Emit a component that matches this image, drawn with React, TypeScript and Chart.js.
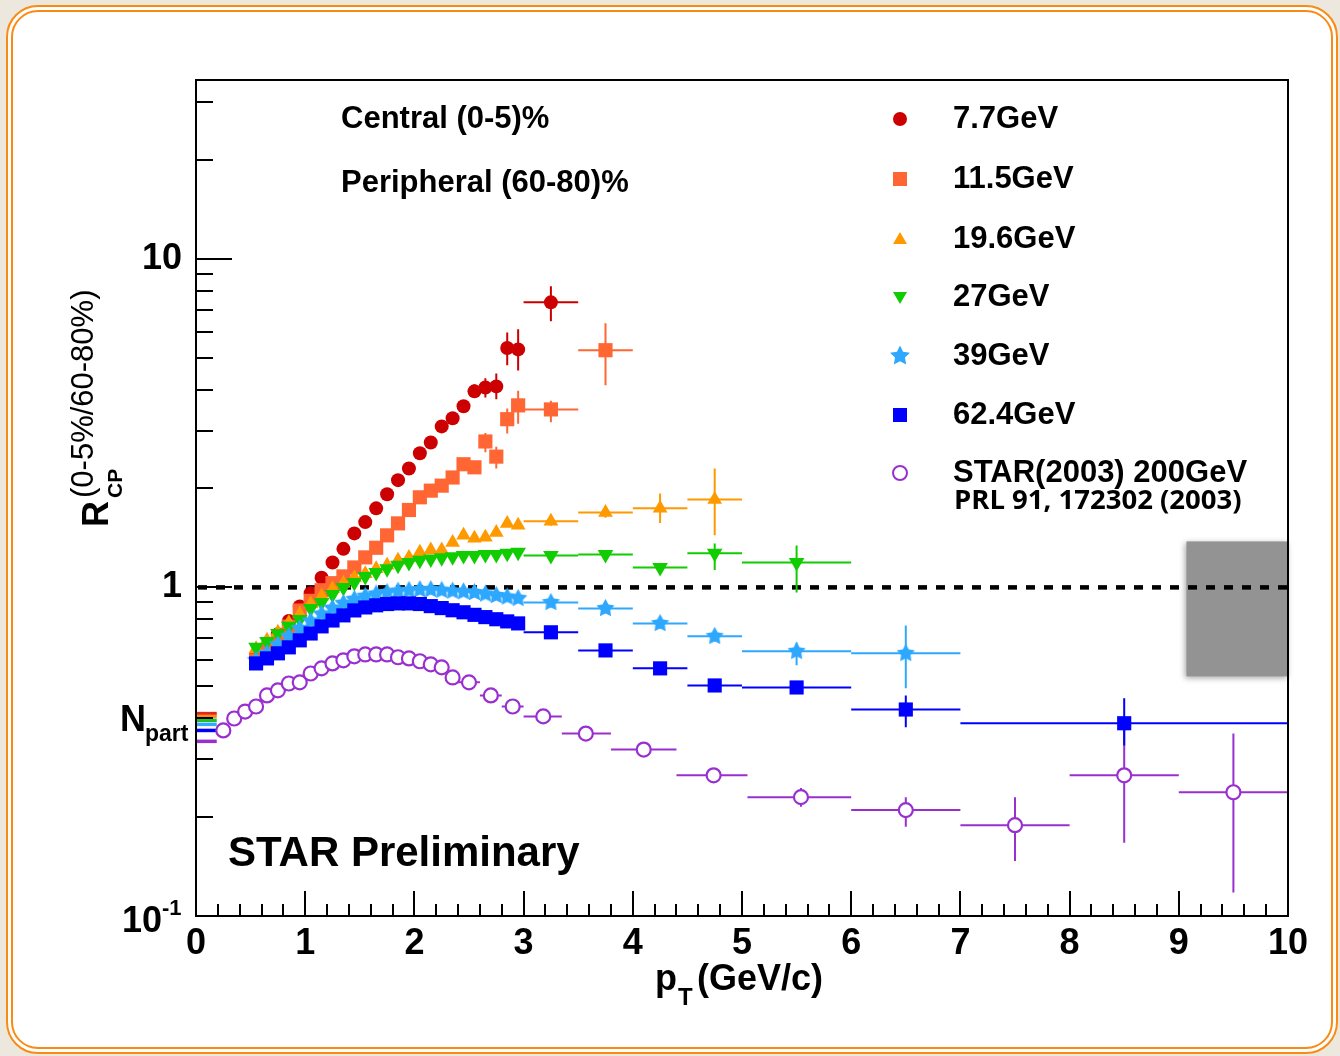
import React, { useEffect, useRef } from 'react';
import { Chart, registerables } from 'chart.js';

Chart.register(...registerables);

const FONT = "'Liberation Sans', Arial, Helvetica, sans-serif";

// ---- axes ----
const X_MIN = 0;
const X_MAX = 10;
const Y_MIN = 0.1;
const Y_MAX = 35;
const X_MAJOR_TICKS = [0, 1, 2, 3, 4, 5, 6, 7, 8, 9, 10];
const X_MINOR_STEP = 0.2;
const Y_MAJOR_TICKS = [0.1, 1, 10];
const Y_MINOR_TICKS = [0.2, 0.3, 0.4, 0.5, 0.6, 0.7, 0.8, 0.9, 2, 3, 4, 5, 6, 7, 8, 9, 20, 30];
const Y_LABELS = ['10', '1', '10'];

// ---- common pT bins (GeV/c) ----
const PT_FINE = [0.55, 0.65, 0.75, 0.85, 0.95, 1.05, 1.15, 1.25, 1.35, 1.45, 1.55, 1.65, 1.75, 1.85, 1.95, 2.05, 2.15, 2.25, 2.35, 2.45, 2.55, 2.65, 2.75, 2.85, 2.95];

// ---- 7.7 GeV ----
const PT_7 = [...PT_FINE, 3.25];
const R_7 = [0.62, 0.66, 0.72, 0.79, 0.875, 0.96, 1.07, 1.19, 1.31, 1.46, 1.58, 1.74, 1.92, 2.12, 2.30, 2.56, 2.76, 3.09, 3.27, 3.56, 3.95, 4.06, 4.09, 5.35, 5.30, 7.37];
const ERR_7_PT = [2.55, 2.65, 2.75, 2.85, 2.95, 3.25];
const ERR_7_XLO = [2.5, 2.6, 2.7, 2.8, 2.9, 3.0];
const ERR_7_XHI = [2.6, 2.7, 2.8, 2.9, 3.0, 3.5];
const ERR_7_YLO = [3.78, 3.78, 3.74, 4.74, 4.57, 6.45];
const ERR_7_YHI = [4.15, 4.33, 4.48, 5.97, 6.10, 8.25];

// ---- 11.5 GeV ----
const PT_11 = [...PT_FINE, 3.25, 3.75];
const R_11 = [0.60, 0.64, 0.69, 0.76, 0.85, 0.91, 0.98, 1.03, 1.08, 1.15, 1.234, 1.32, 1.44, 1.566, 1.72, 1.88, 1.97, 2.04, 2.16, 2.37, 2.32, 2.78, 2.5, 3.25, 3.58, 3.48, 5.27];
const ERR_11_PT = [2.65, 2.75, 2.85, 2.95, 3.25, 3.75];
const ERR_11_XLO = [2.6, 2.7, 2.8, 2.9, 3.0, 3.5];
const ERR_11_XHI = [2.7, 2.8, 2.9, 3.0, 3.5, 4.0];
const ERR_11_YLO = [2.58, 2.3, 2.94, 3.15, 3.18, 4.12];
const ERR_11_YHI = [2.95, 2.68, 3.5, 3.97, 3.7, 6.36];

// ---- 19.6 GeV ----
const PT_19 = [...PT_FINE, 3.25, 3.75, 4.25, 4.75];
const R_19 = [0.65, 0.69, 0.73, 0.78, 0.83, 0.89, 0.94, 0.99, 1.03, 1.07, 1.10, 1.14, 1.167, 1.21, 1.234, 1.28, 1.30, 1.30, 1.37, 1.44, 1.41, 1.42, 1.47, 1.565, 1.545, 1.59, 1.69, 1.74, 1.85];
const ERR_19_PT = [3.25, 3.75, 4.25, 4.75];
const ERR_19_XLO = [3.0, 3.5, 4.0, 4.5];
const ERR_19_XHI = [3.5, 4.0, 4.5, 5.0];
const ERR_19_YLO = [1.54, 1.63, 1.57, 1.44];
const ERR_19_YHI = [1.64, 1.75, 1.93, 2.3];

// ---- 27 GeV ----
const PT_27 = [...PT_FINE, 3.25, 3.75, 4.25, 4.75, 5.5];
const R_27 = [0.657, 0.685, 0.724, 0.761, 0.799, 0.863, 0.90, 0.952, 1.0, 1.035, 1.08, 1.11, 1.14, 1.167, 1.19, 1.21, 1.22, 1.23, 1.24, 1.25, 1.25, 1.26, 1.26, 1.27, 1.28, 1.25, 1.26, 1.15, 1.27, 1.19];
const ERR_27_PT = [3.25, 3.75, 4.25, 4.75, 5.5];
const ERR_27_XLO = [3.0, 3.5, 4.0, 4.5, 5.0];
const ERR_27_XHI = [3.5, 4.0, 4.5, 5.0, 6.0];
const ERR_27_YLO = [1.22, 1.22, 1.12, 1.13, 0.965];
const ERR_27_YHI = [1.28, 1.30, 1.18, 1.36, 1.34];

// ---- 39 GeV ----
const PT_39 = [...PT_FINE, 3.25, 3.75, 4.25, 4.75, 5.5, 6.5];
const R_39 = [0.60, 0.63, 0.67, 0.71, 0.75, 0.79, 0.83, 0.865, 0.895, 0.92, 0.94, 0.955, 0.965, 0.975, 0.98, 0.985, 0.985, 0.98, 0.975, 0.97, 0.965, 0.955, 0.945, 0.935, 0.926, 0.90, 0.863, 0.777, 0.71, 0.639, 0.63];
const ERR_39_PT = [3.25, 3.75, 4.25, 4.75, 5.5, 6.5];
const ERR_39_XLO = [3.0, 3.5, 4.0, 4.5, 5.0, 6.0];
const ERR_39_XHI = [3.5, 4.0, 4.5, 5.0, 6.0, 7.0];
const ERR_39_YLO = [0.87, 0.835, 0.75, 0.685, 0.58, 0.493];
const ERR_39_YHI = [0.93, 0.89, 0.805, 0.735, 0.68, 0.766];

// ---- 62.4 GeV ----
const PT_62 = [...PT_FINE, 3.25, 3.75, 4.25, 4.75, 5.5, 6.5, 8.5];
const R_62 = [0.587, 0.608, 0.63, 0.657, 0.69, 0.724, 0.761, 0.793, 0.822, 0.851, 0.869, 0.882, 0.89, 0.894, 0.894, 0.89, 0.877, 0.865, 0.852, 0.84, 0.825, 0.812, 0.80, 0.788, 0.777, 0.73, 0.643, 0.567, 0.503, 0.496, 0.425, 0.386];
const ERR_62_PT = [3.25, 3.75, 4.25, 4.75, 5.5, 6.5, 8.5];
const ERR_62_XLO = [3.0, 3.5, 4.0, 4.5, 5.0, 6.0, 7.0];
const ERR_62_XHI = [3.5, 4.0, 4.5, 5.0, 6.0, 7.0, 10.0];
const ERR_62_YLO = [0.715, 0.63, 0.555, 0.49, 0.483, 0.375, 0.33];
const ERR_62_YHI = [0.745, 0.656, 0.58, 0.516, 0.51, 0.469, 0.46];

// ---- STAR (2003) 200 GeV ----
const PT_200 = [0.25, 0.35, 0.45, 0.55, 0.65, 0.75, 0.85, 0.95, 1.05, 1.15, 1.25, 1.35, 1.45, 1.55, 1.65, 1.75, 1.85, 1.95, 2.05, 2.15, 2.25, 2.35, 2.5, 2.7, 2.9, 3.18, 3.57, 4.1, 4.74, 5.54, 6.5, 7.5, 8.5, 9.5];
const R_200 = [0.367, 0.399, 0.419, 0.434, 0.469, 0.486, 0.51, 0.514, 0.547, 0.567, 0.587, 0.60, 0.617, 0.625, 0.625, 0.625, 0.613, 0.608, 0.596, 0.583, 0.571, 0.532, 0.514, 0.469, 0.434, 0.405, 0.359, 0.321, 0.268, 0.23, 0.21, 0.189, 0.268, 0.238];
const ERR_200_PT = [2.5, 2.7, 2.9, 3.18, 3.57, 4.1, 4.74, 5.54, 6.5, 7.5, 8.5, 9.5];
const ERR_200_XLO = [2.4, 2.6, 2.8, 3.0, 3.35, 3.8, 4.4, 5.05, 6.0, 7.0, 8.0, 9.0];
const ERR_200_XHI = [2.6, 2.8, 3.0, 3.35, 3.8, 4.4, 5.05, 6.0, 7.0, 8.0, 9.0, 10.0];
const ERR_200_YLO = [0.5, 0.456, 0.42, 0.392, 0.347, 0.308, 0.255, 0.215, 0.187, 0.147, 0.167, 0.118];
const ERR_200_YHI = [0.53, 0.482, 0.448, 0.418, 0.372, 0.335, 0.282, 0.245, 0.23, 0.23, 0.37, 0.359];

// ---- N_part normalisation bars, reference line, uncertainty box ----
const NPART_VALUES = [0.413, 0.405, 0.394, 0.383, 0.367, 0.340];
const NPART_COLORS = ['#dd2a1a', '#ff8a1a', '#22c022', '#33aaff', '#0000ff', '#9a2fd0'];
const NPART_X_END = 0.19;
const UNITY = 1;
const BOX_X = [9.07, 10];
const BOX_Y = [0.536, 1.38];

// ---- labels ----
const LEGEND_LABELS = ['7.7GeV', '11.5GeV', '19.6GeV', '27GeV', '39GeV', '62.4GeV', 'STAR(2003) 200GeV'];
const LEGEND_SUB = 'PRL 91, 172302 (2003)';
const CENTRALITY_TEXT = ['Central (0-5)%', 'Peripheral (60-80)%'];
const PRELIM_TEXT = 'STAR Preliminary';

const C_RED = '#cc0000';
const C_ORSQ = '#ff6633';
const C_ORTRI = '#ff9900';
const C_GREEN = '#11cc00';
const C_CYAN = '#2ea8ff';
const C_BLUE = '#0000ff';
const C_PURPLE = '#9a2fd0';

function makeStar(color: string, outer: number, inner: number) {
  const s = Math.ceil(outer * 2 + 2);
  const cv = document.createElement('canvas');
  cv.width = s;
  cv.height = s;
  const c = cv.getContext('2d')!;
  drawStar(c, s / 2, s / 2, outer, inner, color);
  return cv;
}

function drawStar(c: CanvasRenderingContext2D, cx: number, cy: number, outer: number, inner: number, color: string) {
  c.fillStyle = color;
  c.beginPath();
  for (let i = 0; i < 10; i++) {
    const r = i % 2 === 0 ? outer : inner;
    const a = -Math.PI / 2 + (i * Math.PI) / 5;
    const px = cx + r * Math.cos(a);
    const py = cy + r * Math.sin(a);
    if (i === 0) c.moveTo(px, py);
    else c.lineTo(px, py);
  }
  c.closePath();
  c.fill();
}

type Err = { pt: number[]; xlo: number[]; xhi: number[]; ylo: number[]; yhi: number[] };
type Series = {
  label: string; color: string; pt: number[]; r: number[]; err: Err;
  style: string; radius: number; rotation?: number; open?: boolean;
};

const SERIES: Series[] = [
  { label: LEGEND_LABELS[5], color: C_BLUE, pt: PT_62, r: R_62, err: { pt: ERR_62_PT, xlo: ERR_62_XLO, xhi: ERR_62_XHI, ylo: ERR_62_YLO, yhi: ERR_62_YHI }, style: 'rect', radius: 10 },
  { label: LEGEND_LABELS[4], color: C_CYAN, pt: PT_39, r: R_39, err: { pt: ERR_39_PT, xlo: ERR_39_XLO, xhi: ERR_39_XHI, ylo: ERR_39_YLO, yhi: ERR_39_YHI }, style: 'star', radius: 9 },
  { label: LEGEND_LABELS[3], color: C_GREEN, pt: PT_27, r: R_27, err: { pt: ERR_27_PT, xlo: ERR_27_XLO, xhi: ERR_27_XHI, ylo: ERR_27_YLO, yhi: ERR_27_YHI }, style: 'triangle', radius: 9, rotation: 180 },
  { label: LEGEND_LABELS[2], color: C_ORTRI, pt: PT_19, r: R_19, err: { pt: ERR_19_PT, xlo: ERR_19_XLO, xhi: ERR_19_XHI, ylo: ERR_19_YLO, yhi: ERR_19_YHI }, style: 'triangle', radius: 8.5 },
  { label: LEGEND_LABELS[1], color: C_ORSQ, pt: PT_11, r: R_11, err: { pt: ERR_11_PT, xlo: ERR_11_XLO, xhi: ERR_11_XHI, ylo: ERR_11_YLO, yhi: ERR_11_YHI }, style: 'rect', radius: 10 },
  { label: LEGEND_LABELS[0], color: C_RED, pt: PT_7, r: R_7, err: { pt: ERR_7_PT, xlo: ERR_7_XLO, xhi: ERR_7_XHI, ylo: ERR_7_YLO, yhi: ERR_7_YHI }, style: 'circle', radius: 7 },
  { label: LEGEND_LABELS[6], color: C_PURPLE, pt: PT_200, r: R_200, err: { pt: ERR_200_PT, xlo: ERR_200_XLO, xhi: ERR_200_XHI, ylo: ERR_200_YLO, yhi: ERR_200_YHI }, style: 'circle', radius: 7, open: true },
];

const LEGEND_ORDER = [5, 4, 3, 2, 1, 0, 6];

function legendMarker(c: CanvasRenderingContext2D, s: Series, x: number, y: number) {
  c.save();
  c.fillStyle = s.color;
  c.strokeStyle = s.color;
  if (s.style === 'circle' && !s.open) {
    c.beginPath(); c.arc(x, y, 7, 0, Math.PI * 2); c.fill();
  } else if (s.style === 'circle') {
    c.fillStyle = '#fff'; c.lineWidth = 2;
    c.beginPath(); c.arc(x, y, 7, 0, Math.PI * 2); c.fill(); c.stroke();
  } else if (s.style === 'rect') {
    c.fillRect(x - 7, y - 7, 14, 14);
  } else if (s.style === 'triangle') {
    const dir = s.rotation ? -1 : 1;
    c.beginPath();
    c.moveTo(x, y - dir * 7);
    c.lineTo(x + 7, y + dir * 5);
    c.lineTo(x - 7, y + dir * 5);
    c.closePath(); c.fill();
  } else if (s.style === 'star') {
    drawStar(c, x, y, 10.5, 5.2, s.color);
  }
  c.restore();
}

const overlay = {
  id: 'rootOverlay',
  beforeDatasetsDraw(chart: any) {
    const c: CanvasRenderingContext2D = chart.ctx;
    const xs = chart.scales.x;
    const ys = chart.scales.y;
    const area = chart.chartArea;
    c.save();
    // uncertainty box
    c.shadowColor = 'rgba(0,0,0,0.35)';
    c.shadowBlur = 6;
    c.shadowOffsetX = -1;
    c.shadowOffsetY = 2;
    c.fillStyle = '#939393';
    const bx0 = xs.getPixelForValue(BOX_X[0]);
    const bx1 = xs.getPixelForValue(BOX_X[1]);
    const by0 = ys.getPixelForValue(BOX_Y[1]);
    const by1 = ys.getPixelForValue(BOX_Y[0]);
    c.fillRect(bx0, by0, bx1 - bx0, by1 - by0);
    c.restore();

    // unity dashed line
    c.save();
    c.strokeStyle = '#000';
    c.lineWidth = 4.5;
    c.setLineDash([9, 9]);
    const yu = ys.getPixelForValue(UNITY);
    c.beginPath();
    c.moveTo(area.left + 2, yu);
    c.lineTo(area.right, yu);
    c.stroke();
    c.restore();

    // Npart bars
    c.save();
    NPART_VALUES.forEach((v, i) => {
      c.strokeStyle = NPART_COLORS[i];
      c.lineWidth = 3.5;
      const py = ys.getPixelForValue(v);
      c.beginPath();
      c.moveTo(xs.getPixelForValue(X_MIN), py);
      c.lineTo(xs.getPixelForValue(NPART_X_END), py);
      c.stroke();
    });
    c.restore();

    // error bars (reverse so top datasets' bars on top)
    c.save();
    c.lineWidth = 2;
    for (let k = SERIES.length - 1; k >= 0; k--) {
      const s = SERIES[k];
      c.strokeStyle = s.color;
      s.err.pt.forEach((p, i) => {
        const idx = s.pt.indexOf(p);
        if (idx < 0) return;
        const px = xs.getPixelForValue(p);
        const py = ys.getPixelForValue(s.r[idx]);
        c.beginPath();
        c.moveTo(xs.getPixelForValue(s.err.xlo[i]), py);
        c.lineTo(xs.getPixelForValue(s.err.xhi[i]), py);
        c.moveTo(px, ys.getPixelForValue(s.err.ylo[i]));
        c.lineTo(px, ys.getPixelForValue(s.err.yhi[i]));
        c.stroke();
      });
    }
    c.restore();
  },
  afterDraw(chart: any) {
    const c: CanvasRenderingContext2D = chart.ctx;
    const xs = chart.scales.x;
    const ys = chart.scales.y;
    const area = chart.chartArea;
    c.save();
    // frame
    c.strokeStyle = '#000';
    c.lineWidth = 2;
    c.strokeRect(area.left, area.top, area.right - area.left, area.bottom - area.top);
    // x ticks
    c.beginPath();
    for (let v = X_MIN; v <= X_MAX + 1e-9; v += X_MINOR_STEP) {
      const major = X_MAJOR_TICKS.some((t) => Math.abs(t - v) < 1e-6);
      const px = Math.round(xs.getPixelForValue(v));
      c.moveTo(px, area.bottom);
      c.lineTo(px, area.bottom - (major ? 25 : 12));
    }
    // y ticks
    Y_MAJOR_TICKS.forEach((v) => {
      const py = Math.round(ys.getPixelForValue(v));
      c.moveTo(area.left, py);
      c.lineTo(area.left + 36, py);
    });
    Y_MINOR_TICKS.forEach((v) => {
      const py = Math.round(ys.getPixelForValue(v));
      c.moveTo(area.left, py);
      c.lineTo(area.left + 17, py);
    });
    c.lineWidth = 2;
    c.stroke();

    c.fillStyle = '#000';
    // 10^-1 label
    const y01 = ys.getPixelForValue(Y_MAJOR_TICKS[0]);
    c.font = `bold 36px ${FONT}`;
    c.textAlign = 'right';
    c.textBaseline = 'alphabetic';
    c.fillText(Y_LABELS[0], area.left - 34, y01 + 16);
    c.font = `bold 22px ${FONT}`;
    c.textAlign = 'left';
    c.fillText('-1', area.left - 34, y01 - 1);

    // N_part label
    c.font = `bold 36px ${FONT}`;
    c.fillText('N', 120, 731);
    c.font = `bold 23px ${FONT}`;
    c.fillText('part', 145, 741);

    // x title
    c.font = `bold 36px ${FONT}`;
    c.fillText('p', 655, 990);
    c.font = `bold 24px ${FONT}`;
    c.fillText('T', 678, 1005);
    c.font = `bold 36px ${FONT}`;
    c.fillText('(GeV/c)', 697, 990);

    // y title (rotated)
    c.save();
    c.translate(108, 527);
    c.rotate(-Math.PI / 2);
    c.font = `bold 36px ${FONT}`;
    c.fillText('R', 0, 0);
    const rw = c.measureText('R').width;
    c.font = `bold 21px ${FONT}`;
    c.fillText('CP', rw + 3, 14);
    c.font = `31px ${FONT}`;
    c.fillText('(0-5%/60-80%)', rw + 3, -15);
    c.restore();

    // centrality text
    c.font = `bold 31px ${FONT}`;
    c.textBaseline = 'middle';
    c.fillText(CENTRALITY_TEXT[0], 341, 119);
    c.fillText(CENTRALITY_TEXT[1], 341, 183);

    // legend
    const rowY = [119, 179, 239, 297, 356, 415, 473];
    LEGEND_ORDER.forEach((si, i) => {
      const s = SERIES[si];
      legendMarker(c, s, 900, rowY[i]);
      c.fillStyle = '#000';
      c.font = `bold 31px ${FONT}`;
      c.textBaseline = 'middle';
      c.fillText(s.label, 953, rowY[i]);
    });
    c.font = `bold 27.5px 'Open Sans', ${FONT}`;
    c.fillText(LEGEND_SUB, 954, 501);

    // preliminary
    c.font = `bold 42px ${FONT}`;
    c.textBaseline = 'alphabetic';
    c.fillText(PRELIM_TEXT, 228, 866);
    c.restore();
  },
};

export default function App() {
  const ref = useRef<HTMLCanvasElement | null>(null);
  useEffect(() => {
    const canvas = ref.current;
    if (!canvas) return;
    const starImg = makeStar(C_CYAN, 9.5, 5);
    const datasets = SERIES.map((s) => ({
      label: s.label,
      data: s.pt.map((p, i) => ({ x: p, y: s.r[i] })),
      showLine: false,
      pointStyle: s.style === 'star' ? starImg : s.style,
      pointRadius: s.radius,
      pointRotation: s.rotation || 0,
      pointBackgroundColor: s.open ? '#ffffff' : s.color,
      pointBorderColor: s.color,
      pointBorderWidth: s.open ? 2.2 : 0,
    }));
    const chart = new Chart(canvas, {
      type: 'scatter',
      data: { datasets: datasets as any },
      options: {
        animation: false,
        responsive: false,
        devicePixelRatio: 1,
        events: [],
        layout: { padding: { left: 96, top: 80, right: 52, bottom: 0 } },
        plugins: { legend: { display: false }, tooltip: { enabled: false } },
        scales: {
          x: {
            type: 'linear',
            min: X_MIN,
            max: X_MAX,
            afterFit: (s: any) => { s.height = 140; },
            afterBuildTicks: (s: any) => { s.ticks = X_MAJOR_TICKS.map((v) => ({ value: v })); },
            grid: { display: false, drawTicks: false },
            border: { display: false },
            ticks: {
              autoSkip: false,
              maxRotation: 0,
              padding: 6,
              color: '#000',
              font: { family: FONT, size: 36, weight: 'bold' },
              callback: (v: any) => String(v),
            },
          },
          y: {
            type: 'logarithmic',
            min: Y_MIN,
            max: Y_MAX,
            afterFit: (s: any) => { s.width = 100; },
            afterBuildTicks: (s: any) => { s.ticks = Y_MAJOR_TICKS.map((v) => ({ value: v })); },
            grid: { display: false, drawTicks: false },
            border: { display: false },
            ticks: {
              autoSkip: false,
              padding: 14,
              color: '#000',
              font: { family: FONT, size: 36, weight: 'bold' },
              callback: (v: any) => {
                const i = Y_MAJOR_TICKS.indexOf(Number(v));
                return i > 0 ? Y_LABELS[i] : '';
              },
            },
          },
        },
      } as any,
      plugins: [overlay],
    });
    return () => chart.destroy();
  }, []);

  return (
    <div style={{ position: 'fixed', left: 0, top: 0, width: 1340, height: 1056, background: '#ece8de', overflow: 'hidden' }}>
      <div
        style={{
          position: 'absolute', left: 6, top: 5, width: 1332, height: 1049, boxSizing: 'border-box',
          border: '7px double #f98a12', borderRadius: 32, background: '#ffffff',
        }}
      />
      <canvas ref={ref} width={1340} height={1056} style={{ position: 'absolute', left: 0, top: 0, width: 1340, height: 1056 }} />
    </div>
  );
}
